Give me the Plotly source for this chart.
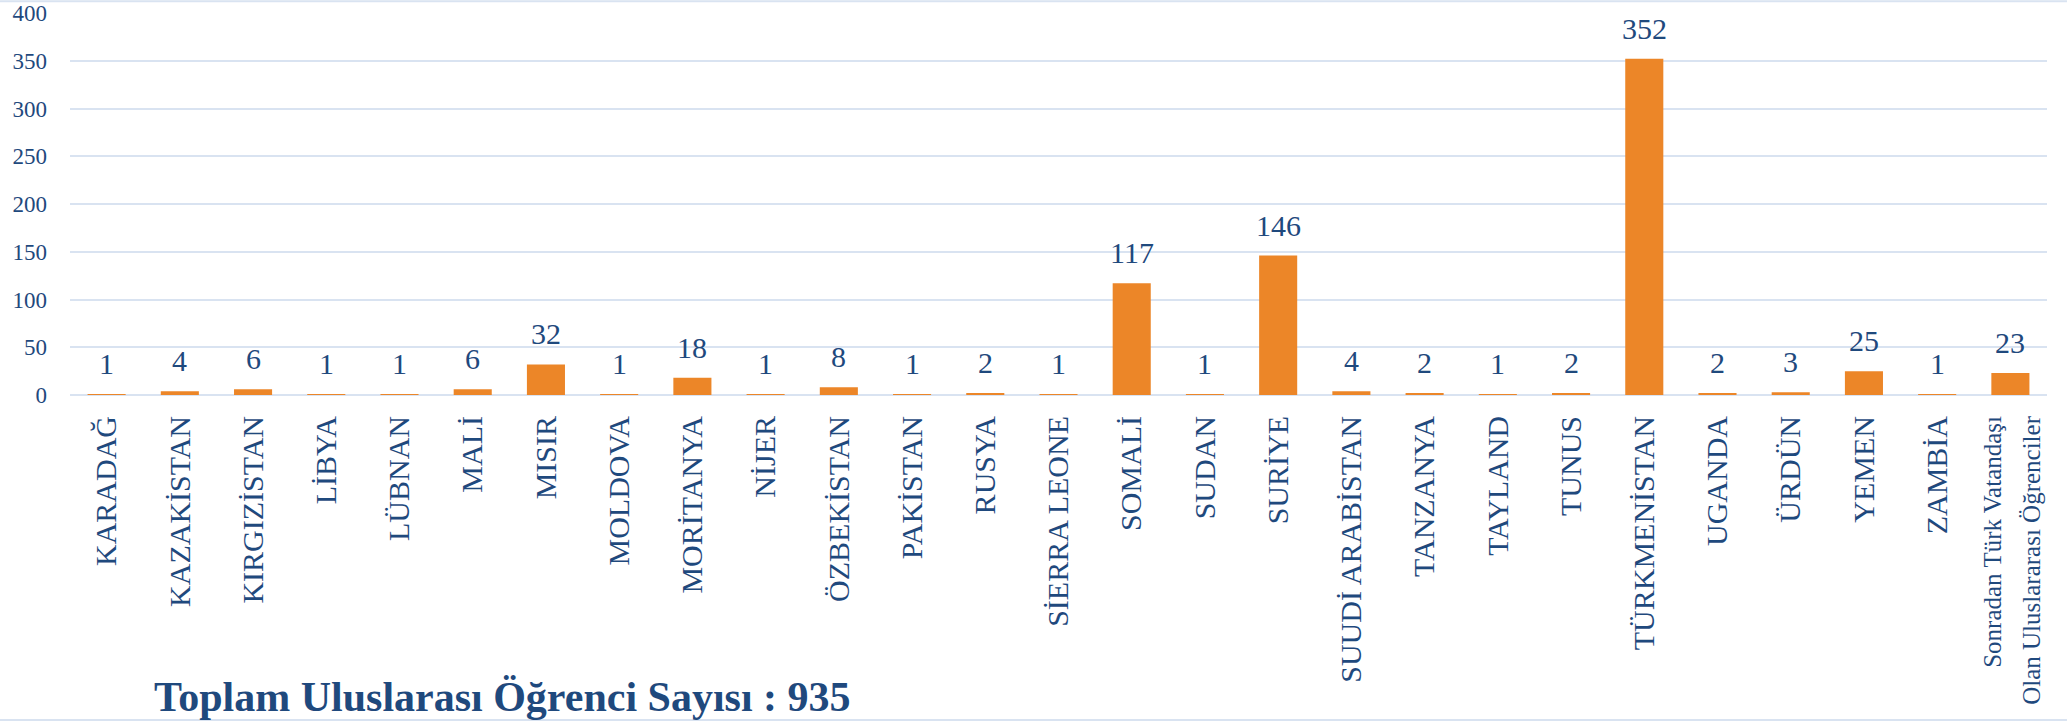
import plotly.graph_objects as go

# ülkelere göre uluslararası öğrenci sayıları
ulkeler = [
    'KARADAĞ', 'KAZAKİSTAN', 'KIRGIZİSTAN', 'LİBYA', 'LÜBNAN', 'MALİ', 'MISIR',
    'MOLDOVA', 'MORİTANYA', 'NİJER', 'ÖZBEKİSTAN', 'PAKİSTAN', 'RUSYA',
    'SİERRA LEONE', 'SOMALİ', 'SUDAN', 'SURİYE', 'SUUDİ ARABİSTAN', 'TANZANYA',
    'TAYLAND', 'TUNUS', 'TÜRKMENİSTAN', 'UGANDA', 'ÜRDÜN', 'YEMEN', 'ZAMBİA',
    '<span style="font-size:25px">Sonradan Türk Vatandaşı<br>Olan Uluslararası Öğrenciler</span>',
]
ogrenci_sayisi = [1, 4, 6, 1, 1, 6, 32, 1, 18, 1, 8, 1, 2, 1, 117, 1, 146, 4, 2, 1, 2, 352, 2, 3, 25, 1, 23]
toplam_baslik = 'Toplam Uluslarası Öğrenci Sayısı : 935'
y_ticks = [0, 50, 100, 150, 200, 250, 300, 350, 400]

LACIVERT = '#1F497D'
TURUNCU = '#EC8628'
IZGARA = '#D9E3F1'
FONT = 'Liberation Serif'

fig = go.Figure(go.Bar(
    x=ulkeler,
    y=ogrenci_sayisi,
    marker=dict(color=TURUNCU, line=dict(width=0)),
))

# çubuk üstü değer etiketleri
for ulke, sayi in zip(ulkeler, ogrenci_sayisi):
    fig.add_annotation(
        x=ulke, y=sayi, text=str(sayi),
        showarrow=False, yanchor='bottom', yshift=12,
        font=dict(family=FONT, size=30, color=LACIVERT),
    )

fig.update_layout(
    width=2067,
    height=723,
    margin=dict(l=70, r=20, t=13, b=328, autoexpand=False),
    plot_bgcolor='white',
    paper_bgcolor='white',
    bargap=0.48,
    showlegend=False,
    font=dict(family=FONT, color=LACIVERT),
    xaxis=dict(
        tickangle=-90,
        tickfont=dict(family=FONT, size=30, color=LACIVERT),
        showgrid=False,
        showline=False,
        ticks='',
        ticklabelstandoff=14,
        automargin=False,
    ),
    yaxis=dict(
        range=[0, 400],
        tickvals=y_ticks,
        tickfont=dict(family=FONT, size=23, color=LACIVERT),
        gridcolor=IZGARA,
        gridwidth=2,
        zeroline=True,
        zerolinecolor=IZGARA,
        zerolinewidth=2,
        showline=False,
        ticks='',
        ticklabelstandoff=22,
        automargin=False,
    ),
)

# alt kısımdaki toplam yazısı
fig.add_annotation(
    text='<b>' + toplam_baslik + '</b>',
    xref='paper', yref='paper',
    x=0.0415, y=-0.79,
    xanchor='left', yanchor='middle',
    showarrow=False,
    font=dict(family=FONT, size=42, color=LACIVERT),
)

# sayfa kenar çizgileri
for yy in [1.031, -0.851]:
    fig.add_shape(type='line', xref='paper', yref='paper',
                  x0=-0.0354, x1=1.0101, y0=yy, y1=yy,
                  line=dict(color=IZGARA, width=2))

# sayfanın varsayılan kenar boşluğunu kaldır
fig.write_html('out.html', config={'displayModeBar': False},
               post_script="document.body.style.margin='0';document.body.style.overflow='hidden';")
